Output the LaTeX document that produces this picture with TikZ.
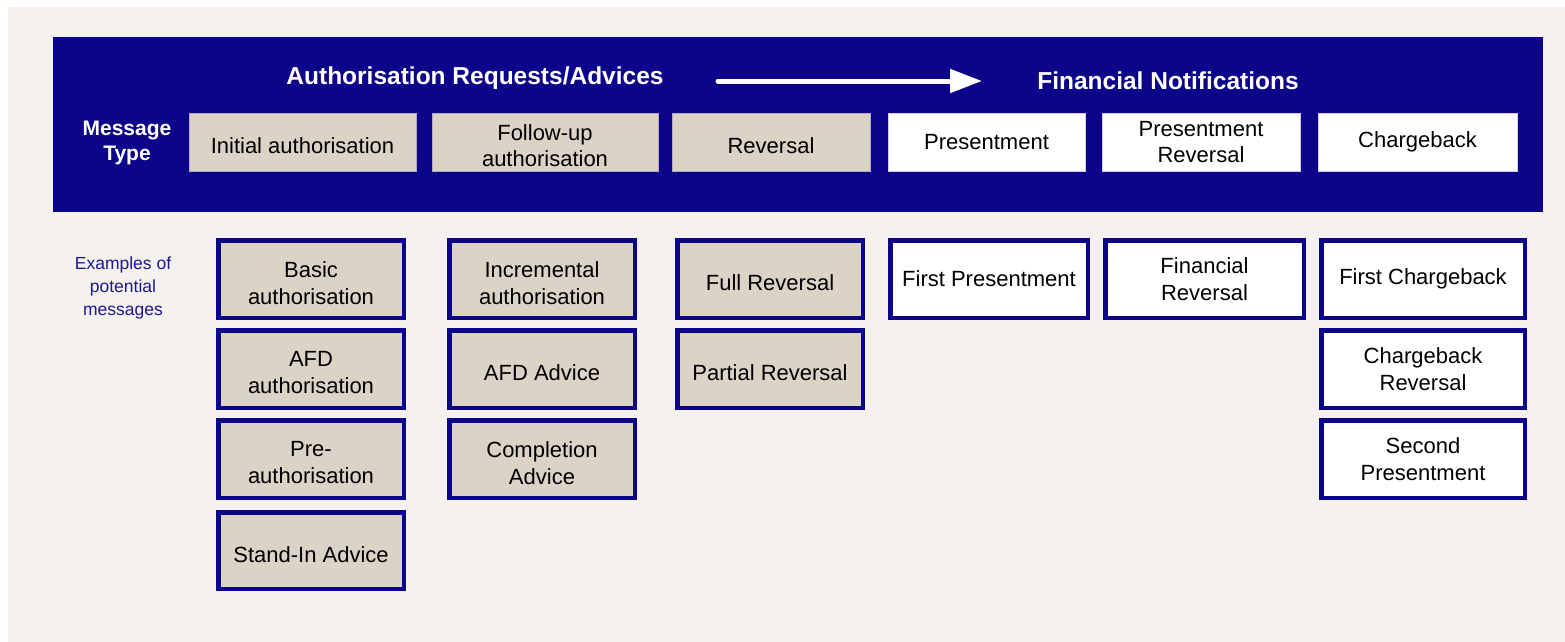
\documentclass[tikz,border=0pt]{standalone}
\usepackage{fontspec}
\setmainfont{Liberation Sans}
\usetikzlibrary{arrows.meta}
\definecolor{bgc}{HTML}{F4F1EE}
\definecolor{navy}{HTML}{0D0589}
\definecolor{beige}{HTML}{DCD3C7}
\definecolor{exnavy}{HTML}{1E1A8E}
\tikzset{
  hdrbox/.style={rectangle, inner sep=0pt, minimum height=58pt, align=center,
    font=\fontsize{22}{26}\selectfont, text=black},
  beigehdr/.style={hdrbox, fill=beige, draw=beige!80!navy, line width=0.6pt},
  whitehdr/.style={hdrbox, fill=white, draw=white!80!navy, line width=0.6pt},
  hlbl/.style={align=center, font=\fontsize{22}{26}\selectfont, text=black, inner sep=0pt, yshift=-4pt},
  btxt/.style={label={[hlbl]center:{#1}}},
  exbox/.style={rectangle, inner sep=0pt, draw=navy, line width=4.5pt,
    minimum height=77.5pt, align=center, font=\fontsize{22}{27}\selectfont, text=black},
  exbeige/.style={exbox, fill=beige},
  exwhite/.style={exbox, fill=white},
  elbl/.style={align=center, font=\fontsize{22}{27}\selectfont, text=black, inner sep=0pt, yshift=-4pt},
  etxt/.style={label={[elbl]center:{#1}}},
  title/.style={font=\bfseries\fontsize{24.5}{28}\selectfont, text=white, inner sep=0pt},
}
\begin{document}
\begin{tikzpicture}[x=1pt,y=-1pt]
\useasboundingbox (0,0) rectangle (1565,642);
\fill[bgc] (8,7) rectangle (1565,642);
\fill[navy] (53,37) rectangle (1543,212);
% titles
\node[title] (t1) at (475,78) {Authorisation Requests/Advices};
\node[title] (t2) at (1168,81) {Financial Notifications};
\coordinate (a1) at (718,81);
\coordinate (a2) at (982,81);
\draw[white, line width=5pt, line cap=round, -{Triangle[length=32pt,width=23pt]}] (a1) -- (a2);
\node[font=\bfseries\fontsize{21}{25}\selectfont, text=white, align=center, inner sep=0pt] (mt) at (127,143) {Message\\Type};
% header boxes
\node[beigehdr, minimum width=227pt, btxt={Initial authorisation}] (h1) at (302.5,142) {};
\node[beigehdr, minimum width=226pt, btxt={Follow-up\\authorisation}] (h2) at (545,142) {};
\node[beigehdr, minimum width=198pt, btxt={Reversal}] (h3) at (771,142) {};
\node[whitehdr, minimum width=197pt] (h4) at (986.5,142) {Presentment};
\node[whitehdr, minimum width=198pt] (h5) at (1201,142) {Presentment\\Reversal};
\node[whitehdr, minimum width=199pt] (h6) at (1417.5,142) {Chargeback};
% examples label
\node[font=\fontsize{17.5}{23}\selectfont, text=exnavy, align=center, inner sep=0pt] (exl) at (123,288) {Examples of\\potential\\messages};
% column 1
\node[exbeige, minimum width=185.5pt, etxt={Basic\\authorisation}] (c1a) at (311,279) {};
\node[exbeige, minimum width=185.5pt, etxt={AFD\\authorisation}] (c1b) at (311,369) {};
\node[exbeige, minimum width=185.5pt, etxt={Pre-\\authorisation}] (c1c) at (311,459) {};
\node[exbeige, minimum width=185.5pt, minimum height=76.5pt, etxt={Stand-In Advice}] (c1d) at (311,550.5) {};
% column 2
\node[exbeige, minimum width=185.5pt, etxt={Incremental\\authorisation}] (c2a) at (542,279) {};
\node[exbeige, minimum width=185.5pt, etxt={AFD Advice}] (c2b) at (542,369) {};
\node[exbeige, minimum width=185.5pt, etxt={Completion\\Advice}] (c2c) at (542,459) {};
% column 3
\node[exbeige, minimum width=185.5pt, etxt={Full Reversal}] (c3a) at (770,279) {};
\node[exbeige, minimum width=185.5pt, etxt={Partial Reversal}] (c3b) at (770,369) {};
% column 4
\node[exwhite, minimum width=197.5pt] (c4a) at (989,279) {First Presentment};
% column 5
\node[exwhite, minimum width=198.5pt] (c5a) at (1204.5,279) {Financial\\Reversal};
% column 6
\node[exwhite, minimum width=203.5pt] (c6a) at (1423,279) {First Chargeback};
\node[exwhite, minimum width=203.5pt] (c6b) at (1423,369) {Chargeback\\Reversal};
\node[exwhite, minimum width=203.5pt] (c6c) at (1423,459) {Second\\Presentment};
\end{tikzpicture}
\end{document}
